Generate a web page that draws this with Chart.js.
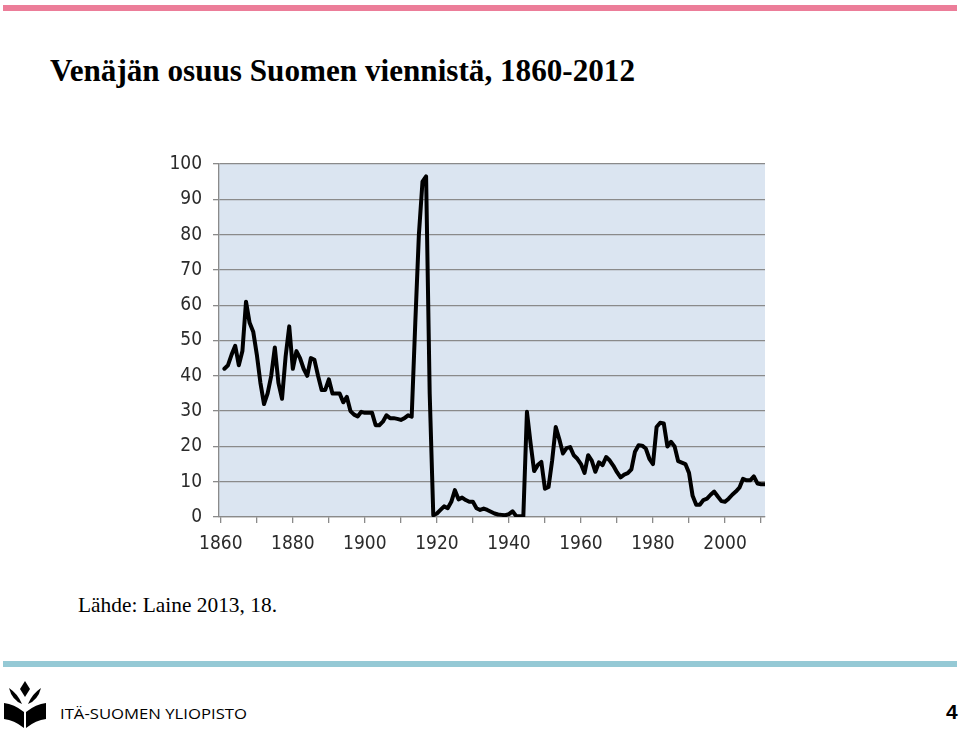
<!DOCTYPE html>
<html>
<head>
<meta charset="utf-8">
<script src="https://cdn.jsdelivr.net/npm/chart.js@4.4.1/dist/chart.umd.min.js"></script>
<style>
    html, body { margin: 0; padding: 0; background: #fff; }
    #page { position: relative; width: 960px; height: 730px; overflow: hidden; }
    #deco { position: absolute; left: 0; top: 0; }
    #chart { position: absolute; left: 140px; top: 140px; }
</style>
</head>
<body>
<div id="page">
    <svg id="deco" width="960" height="730" xmlns="http://www.w3.org/2000/svg">
        <rect x="3" y="5" width="954" height="6" fill="#ec7d99"/>
        <text x="50" y="81" font-family="Liberation Serif, serif" font-weight="bold" font-size="31" textLength="585" lengthAdjust="spacingAndGlyphs" fill="#000">Venäjän osuus Suomen viennistä, 1860-2012</text>
        <text x="78" y="612" font-family="Liberation Serif, serif" font-size="22" textLength="199" lengthAdjust="spacingAndGlyphs" fill="#000">Lähde: Laine 2013, 18.</text>
        <rect x="3" y="661" width="954" height="6" fill="#95c9d5"/>
        <!-- logo -->
        <g fill="#000">
            <path d="M25 681 L30 689 L25 697 L20 689 Z"/>
            <path d="M9 688 Q12 700 22 704 Q18 694 9 688 Z"/>
            <path d="M41 688 Q38 700 28 704 Q32 694 41 688 Z"/>
            <path d="M4 703 Q14 704 24 712 L24 728 Q14 720 4 719 Z"/>
            <path d="M46 703 Q36 704 26 712 L26 728 Q36 720 46 719 Z"/>
        </g>
        <text x="60" y="719" font-family="Open Sans, sans-serif" font-size="15" textLength="187" lengthAdjust="spacingAndGlyphs" fill="#000">ITÄ-SUOMEN YLIOPISTO</text>
        <text x="946" y="719" font-family="Liberation Sans, sans-serif" font-weight="bold" font-size="21" fill="#000">4</text>
    </svg>
    <canvas id="chart" width="650" height="430"></canvas>
</div>
<script>
// vuodet (years)
const years = [
    1861, 1862, 1863, 1864, 1865, 1866, 1867, 1868, 1869, 1870,
    1871, 1872, 1873, 1874, 1875, 1876, 1877, 1878, 1879, 1880,
    1881, 1882, 1883, 1884, 1885, 1886, 1887, 1888, 1889, 1890,
    1891, 1892, 1893, 1894, 1895, 1896, 1897, 1898, 1899, 1900,
    1901, 1902, 1903, 1904, 1905, 1906, 1907, 1908, 1909, 1910,
    1911, 1912, 1913, 1914, 1915, 1916, 1917, 1918, 1919, 1920,
    1921, 1922, 1923, 1924, 1925, 1926, 1927, 1928, 1929, 1930,
    1931, 1932, 1933, 1934, 1935, 1936, 1937, 1938, 1939, 1940,
    1941, 1942, 1943, 1944, 1945, 1946, 1947, 1948, 1949, 1950,
    1951, 1952, 1953, 1954, 1955, 1956, 1957, 1958, 1959, 1960,
    1961, 1962, 1963, 1964, 1965, 1966, 1967, 1968, 1969, 1970,
    1971, 1972, 1973, 1974, 1975, 1976, 1977, 1978, 1979, 1980,
    1981, 1982, 1983, 1984, 1985, 1986, 1987, 1988, 1989, 1990,
    1991, 1992, 1993, 1994, 1995, 1996, 1997, 1998, 1999, 2000,
    2001, 2002, 2003, 2004, 2005, 2006, 2007, 2008, 2009, 2010,
    2011
];

// Venäjän osuus viennistä, %
const russiaShare = [
    42, 43, 46, 48.5, 43, 47, 61, 55, 52.5, 46,
    38, 32, 35, 40, 48, 38, 33.5, 45.5, 54, 42,
    47, 45, 42, 40, 45, 44.5, 40, 36, 36, 39,
    35, 35, 35, 32.5, 34, 30, 29, 28.5, 29.8, 29.5,
    29.5, 29.5, 26, 26, 27, 28.8, 28, 28, 27.8, 27.5,
    28, 28.8, 28.4, 55, 80, 95, 96.5, 35, 0.5, 1,
    2, 3, 2.5, 4.3, 7.6, 5, 5.5, 4.8, 4.3, 4.3,
    2.5, 2, 2.4, 2, 1.5, 1, 0.7, 0.6, 0.5, 0.8,
    1.6, 0.3, 0.2, 0.2, 29.8, 21, 13, 14.7, 15.6, 8,
    8.5, 16, 25.5, 22, 18, 19.5, 19.8, 17.5, 16.5, 15,
    12.5, 17.5, 16, 12.8, 15.5, 14.7, 17, 16, 14.5, 12.7,
    11.2, 12, 12.4, 13.5, 18.5, 20.3, 20.2, 19.4, 16.5, 15,
    25.5, 26.7, 26.5, 20, 21.3, 20, 15.8, 15.4, 15, 12.5,
    6, 3.5, 3.5, 4.8, 5.2, 6.3, 7.2, 5.8, 4.5, 4.3,
    5.2, 6.3, 7.2, 8.3, 10.8, 10.4, 10.4, 11.5, 9.5, 9.3,
    9.3
];

// akselin jaot
const xTicks = [1860, 1870, 1880, 1890, 1900, 1910, 1920, 1930, 1940, 1950, 1960, 1970, 1980, 1990, 2000, 2010];
const xLabelYears = [1860, 1880, 1900, 1920, 1940, 1960, 1980, 2000];
const yTicks = [0, 10, 20, 30, 40, 50, 60, 70, 80, 90, 100];

const tickFont = { family: "'Liberation Sans Narrow', 'DejaVu Sans Condensed', 'Liberation Sans', sans-serif", size: 19 };
const gridColor = '#8a8a8a';

// plot area background
const plotBackground = {
    id: 'plotBackground',
    beforeDraw(chart) {
        const a = chart.chartArea;
        const ctx = chart.ctx;
        ctx.save();
        ctx.fillStyle = '#dbe5f1';
        ctx.fillRect(a.left, a.top, a.right - a.left, a.bottom - a.top);
        ctx.restore();
    }
};

const ctx = document.getElementById('chart').getContext('2d');
new Chart(ctx, {
    type: 'line',
    data: {
        datasets: [{
            data: years.map((y, i) => ({ x: y, y: russiaShare[i] })),
            borderColor: '#000',
            borderWidth: 4,
            borderJoinStyle: 'round',
            borderCapStyle: 'round',
            pointRadius: 0,
            tension: 0,
            fill: false
        }]
    },
    options: {
        responsive: false,
        animation: false,
        layout: { padding: { left: 19, right: 25, top: 24, bottom: 8 } },
        plugins: {
            legend: { display: false },
            tooltip: { enabled: false }
        },
        scales: {
            x: {
                type: 'linear',
                min: 1859.5,
                max: 2011.1,
                afterBuildTicks: scale => { scale.ticks = xTicks.map(v => ({ value: v })); },
                afterFit: scale => { scale.height = 45; },
                grid: { drawOnChartArea: false, drawTicks: true, tickLength: 6, color: gridColor, lineWidth: 1.3 },
                border: { display: true, color: gridColor, width: 1.3 },
                ticks: {
                    autoSkip: false,
                    maxRotation: 0,
                    padding: 10,
                    color: '#2b2b2b',
                    font: tickFont,
                    callback: v => xLabelYears.includes(v) ? String(v) : ''
                }
            },
            y: {
                min: 0,
                max: 100,
                afterBuildTicks: scale => { scale.ticks = yTicks.map(v => ({ value: v })); },
                afterFit: scale => { scale.width = 60; },
                grid: { color: gridColor, lineWidth: 1.3, tickLength: 6 },
                border: { display: true, color: gridColor, width: 1.3 },
                ticks: { padding: 11, color: '#2b2b2b', font: tickFont }
            }
        }
    },
    plugins: [plotBackground]
});
</script>
</body>
</html>
